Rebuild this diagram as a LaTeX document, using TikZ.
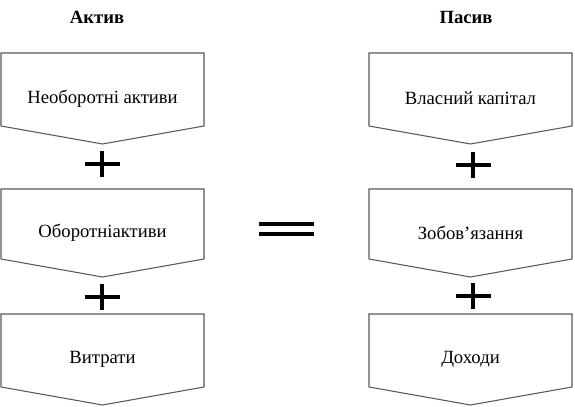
\documentclass[tikz,border=0pt]{standalone}
\usepackage{fontspec}
\setmainfont{Liberation Serif}
\usetikzlibrary{calc}

\tikzset{
  boxline/.style={draw=black!65, line width=0.8pt},
  boxtext/.style={font=\fontsize{14}{16}\selectfont, inner sep=0pt},
  title/.style={font=\fontsize{14}{16}\selectfont\bfseries, inner sep=0pt},
  sign/.style={line width=2.7pt, black},
}

% box with a pointed bottom: name, left x, top y, y of side ends, text
\newcommand{\pointbox}[5]{%
  \draw[boxline] (#2,#3) -- ++(203,0) -- (#2+203,#4) -- (#2+101.5,#4+18)
    -- (#2,#4) -- cycle;
  \node[boxtext] (#1) at (#2+101.5,{(#3+#4+18)/2}) {#5};
}

\begin{document}
\begin{tikzpicture}[x=0.75pt, y=-0.75pt]

  \useasboundingbox (0,0) rectangle (575,407);

  % Column titles
  \node[title] (aktyv) at (97,17) {Актив};
  \node[title] (pasyv) at (466,17) {Пасив};

  % Left column
  \pointbox{neob}{1}{53}{126}{Необоротні активи}
  \pointbox{obor}{1}{189}{259}{Оборотніактиви}
  \pointbox{vytr}{1}{314}{387}{Витрати}

  % Right column
  \pointbox{vlas}{369}{53}{126}{Власний капітал}
  \pointbox{zobo}{369}{189}{259}{Зобов’язання}
  \pointbox{doho}{369}{314}{387}{Доходи}

  % Plus signs
  \foreach \x/\y in {102/164, 102/297, 473/165, 473/296} {
    \draw[sign] (\x-17.5,\y) -- (\x+17.5,\y);
    \draw[sign] (\x,\y-13) -- (\x,\y+13);
  }

  % Equals sign
  \draw[sign, line width=3pt] (259,224) -- (314,224);
  \draw[sign, line width=3pt] (259,234) -- (314,234);

\end{tikzpicture}
\end{document}
